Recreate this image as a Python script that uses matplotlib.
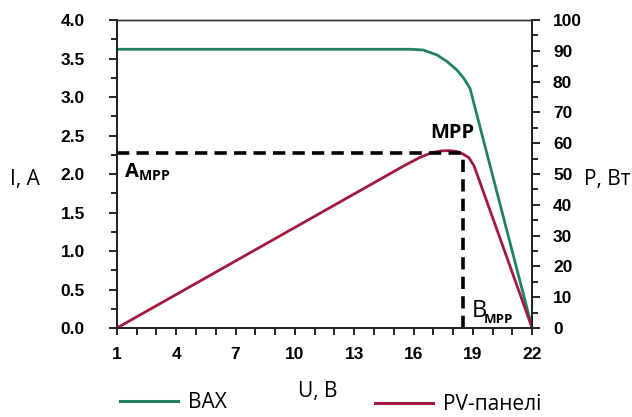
import matplotlib
matplotlib.use("Agg")
import matplotlib.pyplot as plt
from matplotlib.lines import Line2D
from matplotlib.ticker import MultipleLocator
from matplotlib.font_manager import FontProperties

plt.rcParams['mathtext.fontset'] = 'custom'
plt.rcParams['mathtext.rm'] = 'Open Sans'
plt.rcParams['mathtext.bf'] = 'Open Sans:bold'

# I-V curve (ВАХ), left axis
u_iv = [1, 15.9, 16.5, 17.2, 17.7, 18.2, 18.55, 18.86, 22]
i_iv = [3.62, 3.62, 3.61, 3.545, 3.46, 3.35, 3.24, 3.11, 0.0]

# P-V curve (PV-панелі), right axis
u_pv = [1, 15.5, 16.3, 16.9, 17.4, 17.8, 18.2, 18.5, 18.8, 19.05, 19.2, 22]
p_pv = [0.0, 52.6, 55.3, 56.9, 57.5, 57.6, 57.3, 56.5, 55.3, 52.8, 50.2, 0.0]

# maximum power point
mpp_u = 18.5
mpp_p = 56.7

x_ticks = [1, 4, 7, 10, 13, 16, 19, 22]
i_ticks = [0.0, 0.5, 1.0, 1.5, 2.0, 2.5, 3.0, 3.5, 4.0]
p_ticks = [0, 10, 20, 30, 40, 50, 60, 70, 80, 90, 100]

GREEN = '#21825C'
RED = '#A2193F'

fig = plt.figure(figsize=(6.32, 4.17), dpi=100)
ax = fig.add_axes([0.185, 0.2134, 0.657, 0.7386])
ax2 = ax.twinx()

ax.plot(u_iv, i_iv, color=GREEN, lw=2.0, solid_joinstyle='round')
ax2.plot(u_pv, p_pv, color=RED, lw=2.0, solid_joinstyle='round')

ax2.plot([1, mpp_u], [mpp_p, mpp_p], color='black', lw=2.6, dashes=(3.4, 2.0),
         dash_capstyle='butt')
ax2.plot([mpp_u, mpp_u], [0, mpp_p], color='black', lw=2.6, dashes=(3.4, 2.0),
         dash_capstyle='butt')

ax.set_xlim(1, 22)
ax.set_ylim(0, 4.0)
ax2.set_ylim(0, 100)

ax.set_xticks(x_ticks)
ax.xaxis.set_minor_locator(MultipleLocator(1))
ax.set_yticks(i_ticks)
ax.set_yticklabels([f'{v:.1f}' for v in i_ticks])
ax.yaxis.set_minor_locator(MultipleLocator(0.25))
ax2.set_yticks(p_ticks)
ax2.yaxis.set_minor_locator(MultipleLocator(5))

tick_fp = FontProperties(family='Liberation Sans', weight='bold', size=12.5)
for lab in ax.get_xticklabels() + ax.get_yticklabels() + ax2.get_yticklabels():
    lab.set_fontproperties(tick_fp)

ax.tick_params(axis='x', which='both', direction='out', length=5, width=1.2, pad=9)
ax.tick_params(axis='y', which='major', direction='out', length=6, width=1.2, pad=17)
ax.tick_params(axis='y', which='minor', direction='out', length=4, width=1.2)
ax2.tick_params(axis='y', which='major', direction='out', length=6, width=1.2, pad=9)
ax2.tick_params(axis='y', which='minor', direction='out', length=4, width=1.2)

for a in (ax, ax2):
    for s in ('left', 'right', 'bottom'):
        a.spines[s].set_linewidth(1.3)
        a.spines[s].set_color('#222222')
    a.spines['top'].set_linewidth(1.0)
    a.spines['top'].set_color('#333333')

label_font = dict(family='Open Sans', size=15)
fig.text(25 / 632, 1 - 180 / 417, 'I, A', ha='center', va='center', **label_font)
fig.text(607 / 632, 1 - 180 / 417, 'P, Вт', ha='center', va='center', **label_font)
fig.text(318 / 632, 1 - 391 / 417, 'U, В', ha='center', va='center', **label_font)

ax2.text(17.95, 60.2, 'MPP', ha='center', va='bottom', family='Open Sans',
         weight='bold', size=14.5)
ax2.text(1.35, 50.5, r'$\mathbf{A}_{\mathbf{MPP}}$', ha='left', va='center', size=14.5)
ax2.text(18.95, 3.6, 'B', ha='left', va='baseline', family='Open Sans', size=17)
ax2.text(19.55, 1.5, 'MPP', ha='left', va='baseline', family='Open Sans',
         weight='bold', size=9.5)

h1 = Line2D([], [], color=GREEN, lw=2.2)
h2 = Line2D([], [], color=RED, lw=2.2)
leg_font = FontProperties(family='Open Sans', size=15)
leg1 = fig.legend(handles=[h1], labels=['ВАХ'], loc='center left',
                  bbox_to_anchor=(120 / 632, 1 - 403 / 417), frameon=False,
                  handlelength=2.8, handletextpad=0.45, prop=leg_font,
                  borderaxespad=0, borderpad=0)
leg2 = fig.legend(handles=[h2], labels=['PV-панелі'], loc='center left',
                  bbox_to_anchor=(375 / 632, 1 - 405 / 417), frameon=False,
                  handlelength=2.8, handletextpad=0.45, prop=leg_font,
                  borderaxespad=0, borderpad=0)

fig.savefig('out.png', dpi=100)
